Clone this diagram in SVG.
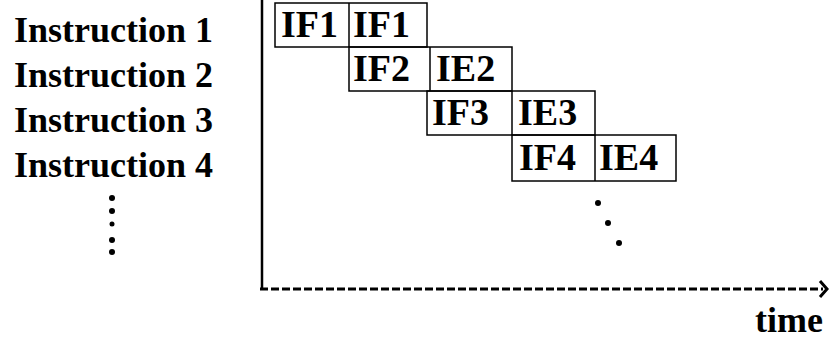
<svg xmlns="http://www.w3.org/2000/svg" width="829" height="341" viewBox="0 0 829 341">
<style>
.lbl{font-family:"Liberation Serif","Times New Roman",serif;font-weight:bold;font-size:36px;fill:#000}
.cell{font-family:"Liberation Serif","Times New Roman",serif;font-weight:bold;font-size:38px;fill:#000}
.box{fill:none;stroke:#000;stroke-width:1.5}
.dot{fill:#000}
</style>
<rect width="829" height="341" fill="#fff"/>
<g id="labels">
<text class="lbl" x="14" y="42">Instruction 1</text>
<text class="lbl" x="14" y="87">Instruction 2</text>
<text class="lbl" x="14" y="132">Instruction 3</text>
<text class="lbl" x="14" y="177">Instruction 4</text>
</g>
<g id="left-dots">
<circle class="dot" cx="112" cy="198" r="3"/>
<circle class="dot" cx="112" cy="211" r="3"/>
<circle class="dot" cx="112" cy="224" r="2.5"/>
<circle class="dot" cx="112" cy="240" r="3"/>
<circle class="dot" cx="112" cy="252" r="3"/>
</g>
<g id="row1">
<rect class="box" x="275" y="3" width="152" height="44"/>
<line class="box" x1="349" y1="3" x2="349" y2="47"/>
<text class="cell" x="281" y="37">IF1</text>
<text class="cell" x="353" y="37">IF1</text>
</g>
<g id="row2">
<rect class="box" x="349" y="47" width="163" height="44"/>
<line class="box" x1="430" y1="47" x2="430" y2="91"/>
<text class="cell" x="353" y="81">IF2</text>
<text class="cell" x="436" y="81">IE2</text>
</g>
<g id="row3">
<rect class="box" x="427" y="91" width="168" height="44"/>
<line class="box" x1="512" y1="91" x2="512" y2="135"/>
<text class="cell" x="432" y="125">IF3</text>
<text class="cell" x="518" y="125">IE3</text>
</g>
<g id="row4">
<rect class="box" x="512" y="135" width="164" height="46"/>
<line class="box" x1="595" y1="135" x2="595" y2="181"/>
<text class="cell" x="519" y="170">IF4</text>
<text class="cell" x="599" y="170">IE4</text>
</g>
<g id="right-dots">
<circle class="dot" cx="598" cy="203" r="3"/>
<circle class="dot" cx="608" cy="223" r="3"/>
<circle class="dot" cx="619" cy="243" r="3"/>
</g>
<g id="connectors">
<line x1="262" y1="0" x2="262" y2="289" stroke="#000" stroke-width="2.5"/>
<line x1="260" y1="289" x2="823" y2="289" stroke="#000" stroke-width="3" stroke-dasharray="8,3"/>
<polyline points="820,281 827,289 820,297" fill="none" stroke="#000" stroke-width="3"/>
</g>
<text class="lbl" x="755" y="332">time</text>
</svg>
